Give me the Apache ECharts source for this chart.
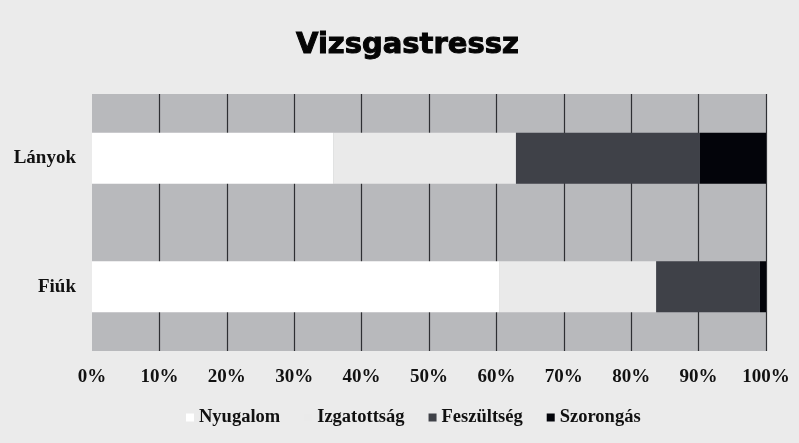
<!DOCTYPE html>
<html>
<head>
<meta charset="utf-8">
<script src="https://cdn.jsdelivr.net/npm/echarts@6/dist/echarts.min.js"></script>
<style>
  html, body { margin: 0; padding: 0; background: #ebebeb; }
  #chart { width: 799px; height: 443px; }
</style>
</head>
<body>
<div id="chart"></div>
<script>
  // adatok
  var csoportok = ['Lányok', 'Fiúk'];
  var nyugalom = [35.8, 60.4];
  var izgatottsag = [27.1, 23.3];
  var feszultseg = [27.3, 15.4];
  var szorongas = [9.8, 0.9];
  var nevek = ['Nyugalom', 'Izgatottság', 'Feszültség', 'Szorongás'];
  var szinek = ['#ffffff', '#eaeaea', '#3f4148', '#03040a'];

  var labelFont = {
      fontFamily: 'Liberation Serif',
      fontWeight: 'bold',
      color: '#111'
  };

  var myChart = echarts.init(document.getElementById('chart'));
  var option = null;

  function sor(i, adat) {
      return {
          name: nevek[i],
          type: 'bar',
          stack: 'ossz',
          barWidth: 51,
          data: adat,
          itemStyle: { color: szinek[i] }
      };
  }

  option = {
      backgroundColor: '#ebebeb',
      color: szinek,
      title: {
          text: 'Vizsgastressz',
          left: 291,
          top: 26,
          padding: 5,
          textStyle: {
              fontFamily: 'DejaVu Sans',
              fontWeight: 'bold',
              fontSize: 29,
              color: '#050505',
              textBorderColor: '#050505',
              textBorderWidth: 1
          }
      },
      legend: {
          bottom: 11,
          left: 181,
          icon: 'rect',
          itemWidth: 8,
          itemHeight: 8,
          itemGap: 24,
          data: nevek,
          textStyle: {
              fontFamily: 'Liberation Serif',
              fontWeight: 'bold',
              fontSize: 18.5,
              color: '#111'
          }
      },
      grid: {
          left: 92,
          right: 33,
          top: 94,
          bottom: 92,
          show: true,
          backgroundColor: '#b8b9bc',
          borderWidth: 0
      },
      xAxis: {
          type: 'value',
          min: 0,
          max: 100,
          interval: 10,
          axisLine: { show: false },
          axisTick: { show: false },
          axisLabel: {
              margin: 17,
              fontSize: 19,
              fontFamily: labelFont.fontFamily,
              fontWeight: labelFont.fontWeight,
              color: labelFont.color,
              formatter: '{value}%'
          },
          splitLine: {
              show: true,
              showMinLine: false,
              showMaxLine: true,
              lineStyle: { color: '#2e2f33', width: 1.2 }
          }
      },
      yAxis: {
          type: 'category',
          inverse: true,
          data: csoportok,
          axisLine: { show: false },
          axisTick: { show: false },
          axisLabel: {
              margin: 16,
              fontSize: 19,
              fontFamily: labelFont.fontFamily,
              fontWeight: labelFont.fontWeight,
              color: labelFont.color
          }
      },
      series: [
          sor(0, nyugalom),
          sor(1, izgatottsag),
          sor(2, feszultseg),
          sor(3, szorongas)
      ]
  };

  if (option && typeof option === "object") {
      myChart.setOption(option, true);
  }
</script>
</body>
</html>
